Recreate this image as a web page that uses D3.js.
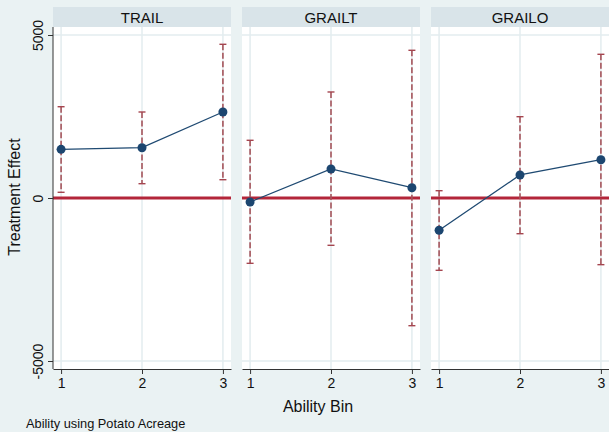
<!DOCTYPE html>
<html>
<head>
<meta charset="utf-8">
<script src="https://d3js.org/d3.v7.min.js"></script>
<style>
  body { margin: 0; background: #eaf2f3; }
  text { font-family: "Liberation Sans", Arial, sans-serif; fill: #111; }
</style>
</head>
<body>
<script>
// Data
var panelNames = ["TRAIL", "GRAILT", "GRAILO"];
var bins = [1, 2, 3];
var yTicks = [-5000, 0, 5000];

var trailEst = [1493, 1543, 2638];
var trailLo = [175, 439, 561];
var trailHi = [2800, 2638, 4715];

var grailtEst = [-123, 890, 316];
var grailtLo = [-2004, -1451, -3917];
var grailtHi = [1770, 3252, 4531];

var grailoEst = [-991, 706, 1175];
var grailoLo = [-2218, -1095, -2045];
var grailoHi = [224, 2494, 4408];

var panelData = [
    {name: panelNames[0], est: trailEst, lo: trailLo, hi: trailHi},
    {name: panelNames[1], est: grailtEst, lo: grailtLo, hi: grailtHi},
    {name: panelNames[2], est: grailoEst, lo: grailoLo, hi: grailoHi}
];

// Layout
var W = 609, H = 432;
var panelLeft = 53, panelStep = 189, panelW = 178;
var plotTop = 27, plotBottom = 369;
var stripTop = 7;

var x = d3.scaleLinear()
    .domain([0.9, 3.1])
    .range([0, panelW]);

var y = d3.scaleLinear()
    .domain([-5000, 5000])
    .range([361, 35]);

var svg = d3.select("body").append("svg")
    .attr("width", W)
    .attr("height", H);

svg.append("rect")
    .attr("width", W)
    .attr("height", H)
    .style("fill", "#eaf2f3");

panelData.forEach(function(p, i) {
    var g = svg.append("g")
        .attr("transform", "translate(" + (panelLeft + i * panelStep) + ",0)");

    // strip title
    g.append("rect")
        .attr("x", 0)
        .attr("y", stripTop)
        .attr("width", panelW)
        .attr("height", plotTop - stripTop)
        .style("fill", "#d9e4e9");

    g.append("text")
        .attr("x", panelW / 2)
        .attr("y", 22.5)
        .style("text-anchor", "middle")
        .style("font-size", "15px")
        .text(p.name);

    // plot region
    g.append("rect")
        .attr("x", 0)
        .attr("y", plotTop)
        .attr("width", panelW)
        .attr("height", plotBottom - plotTop)
        .style("fill", "#ffffff");

    // grid lines
    g.selectAll(".vgrid")
        .data(bins)
        .enter()
        .append("line")
        .attr("x1", d => x(d))
        .attr("x2", d => x(d))
        .attr("y1", plotTop)
        .attr("y2", plotBottom)
        .style("stroke", "#e3ecef")
        .style("stroke-width", "1.5px");

    g.selectAll(".hgrid")
        .data(yTicks.filter(d => d !== 0))
        .enter()
        .append("line")
        .attr("x1", 0)
        .attr("x2", panelW)
        .attr("y1", d => y(d))
        .attr("y2", d => y(d))
        .style("stroke", "#e3ecef")
        .style("stroke-width", "1.5px");

    // zero reference line
    g.append("line")
        .attr("x1", 0)
        .attr("x2", panelW)
        .attr("y1", y(0))
        .attr("y2", y(0))
        .style("stroke", "#b3263a")
        .style("stroke-width", "3px");

    // confidence intervals
    var ci = bins.map((b, k) => ({bin: b, lo: p.lo[k], hi: p.hi[k]}));

    g.selectAll(".ci")
        .data(ci)
        .enter()
        .append("line")
        .attr("x1", d => x(d.bin))
        .attr("x2", d => x(d.bin))
        .attr("y1", d => y(d.hi))
        .attr("y2", d => y(d.lo))
        .style("stroke", "#a5545b")
        .style("stroke-width", "1.6px")
        .style("stroke-dasharray", "6,2.5");

    ["lo", "hi"].forEach(function(k) {
        g.selectAll(".cap-" + k)
            .data(ci)
            .enter()
            .append("line")
            .attr("x1", d => x(d.bin) - 3.5)
            .attr("x2", d => x(d.bin) + 3.5)
            .attr("y1", d => y(d[k]))
            .attr("y2", d => y(d[k]))
            .style("stroke", "#a5454f")
            .style("stroke-width", "1.4px");
    });

    // estimates
    var pts = bins.map((b, k) => ({bin: b, est: p.est[k]}));

    var line = d3.line()
        .x(d => x(d.bin))
        .y(d => y(d.est));

    g.append("path")
        .datum(pts)
        .attr("d", line)
        .style("fill", "none")
        .style("stroke", "#1f4a72")
        .style("stroke-width", "1.3px");

    g.selectAll("circle")
        .data(pts)
        .enter()
        .append("circle")
        .attr("cx", d => x(d.bin))
        .attr("cy", d => y(d.est))
        .attr("r", 4.5)
        .style("fill", "#1c4670");

    // x axis
    var xAxis = g.append("g")
        .attr("transform", "translate(0," + plotBottom + ")")
        .call(d3.axisBottom(x).tickValues(bins).tickFormat(d => String(d)).tickSize(5).tickPadding(4).tickSizeOuter(0));
    xAxis.select(".domain").style("stroke", "#333");
    xAxis.selectAll(".tick line").style("stroke", "#333");
    xAxis.selectAll("text")
        .style("font-size", "14px")
        .style("font-family", "Liberation Sans, Arial, sans-serif")
        .style("fill", "#111");

    // y axis on the first panel only (plain hyphen minus, as in the original)
    if (i === 0) {
        var yAxis = g.append("g")
            .call(d3.axisLeft(y).tickValues(yTicks).tickSize(5).tickSizeOuter(0).tickFormat(d => String(d)));
        yAxis.select(".domain")
            .attr("d", "M0," + plotTop + "V" + plotBottom)
            .style("stroke", "#333");
        yAxis.selectAll(".tick line").style("stroke", "#333");
        yAxis.selectAll("text")
            .attr("transform", "rotate(-90)")
            .attr("x", 0)
            .attr("y", -10)
            .attr("dy", 0)
            .style("text-anchor", "middle")
            .style("font-size", "14px")
            .style("font-family", "Liberation Sans, Arial, sans-serif")
            .style("fill", "#111");
    }
});

// axis titles
svg.append("text")
    .attr("transform", "rotate(-90)")
    .attr("x", -197)
    .attr("y", 20)
    .style("text-anchor", "middle")
    .style("font-size", "16px")
    .text("Treatment Effect");

svg.append("text")
    .attr("x", 318)
    .attr("y", 412)
    .style("text-anchor", "middle")
    .style("font-size", "16px")
    .text("Ability Bin");

// note
svg.append("text")
    .attr("x", 26)
    .attr("y", 428)
    .style("font-size", "12.8px")
    .text("Ability using Potato Acreage");
</script>
</body>
</html>
